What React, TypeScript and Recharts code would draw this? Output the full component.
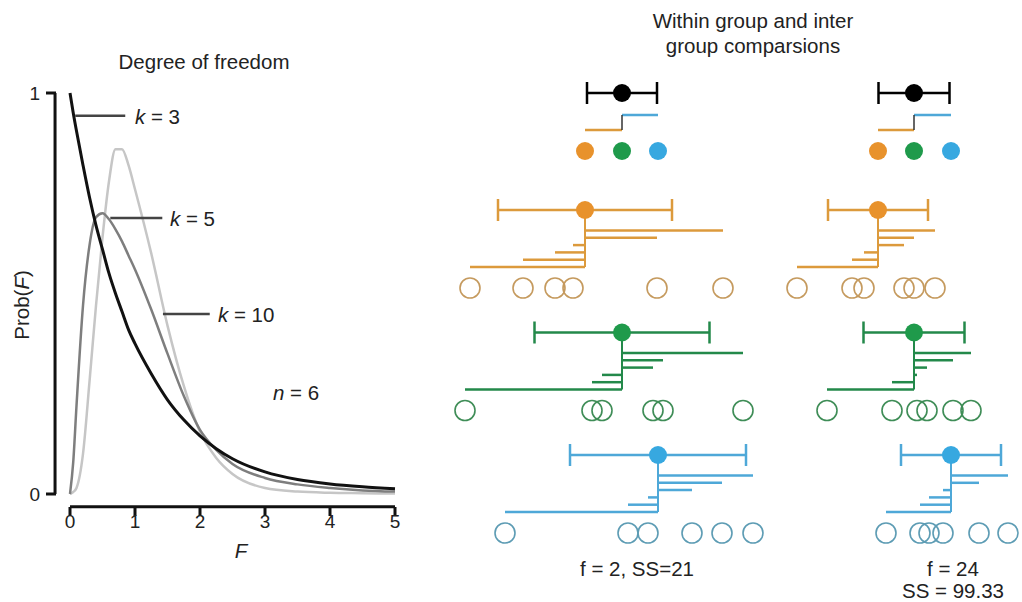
import {
  LineChart, Line, ComposedChart, Scatter, ErrorBar,
  XAxis, YAxis, ReferenceLine,
} from 'recharts'

// F-distribution curves (left panel)
const F_VALUES = [0, 0.05, 0.1, 0.2, 0.3, 0.4, 0.5, 0.6, 0.7, 0.8, 0.9, 1, 1.25, 1.5, 1.75, 2, 2.25, 2.5, 3, 3.5, 4, 4.5, 5]
const PROB_K3 = [1.0, 0.95, 0.905, 0.82, 0.74, 0.67, 0.61, 0.55, 0.5, 0.455, 0.41, 0.375, 0.3, 0.235, 0.185, 0.145, 0.113, 0.088, 0.055, 0.036, 0.025, 0.018, 0.013]
const PROB_K5 = [0, 0.08, 0.22, 0.47, 0.62, 0.69, 0.7, 0.685, 0.66, 0.63, 0.595, 0.56, 0.46, 0.35, 0.245, 0.16, 0.11, 0.075, 0.04, 0.024, 0.015, 0.009, 0.006]
const PROB_K10 = [0, 0.005, 0.015, 0.1, 0.28, 0.47, 0.64, 0.78, 0.86, 0.86, 0.82, 0.76, 0.6, 0.42, 0.27, 0.155, 0.09, 0.05, 0.015, 0.006, 0.003, 0.002, 0.001]
const F_TICKS = [0, 1, 2, 3, 4, 5]
const PROB_TICKS = [0, 1]

// group comparisons, f = 2 panel
const A_GROUPS = [
  [3.0, 8.3, 11.5, 13.3, 21.7, 28.3],
  [2.5, 15.2, 16.2, 21.3, 22.3, 30.3],
  [6.5, 18.8, 20.8, 25.2, 28.2, 31.3],
]
const A_MEANS = [14.5, 18.2, 21.8]
const A_SD = [8.7, 8.75, 8.8]
const A_GRAND = 18.2
const A_GRAND_ERR = 3.5

// group comparisons, f = 24 panel
const B_GROUPS = [
  [2.7, 8.2, 9.4, 13.4, 14.4, 16.5],
  [5.7, 12.2, 14.7, 15.7, 18.3, 20.1],
  [11.6, 15.0, 15.9, 17.3, 20.9, 23.8],
]
const B_MEANS = [10.8, 14.4, 18.1]
const B_SD = [5.0, 5.05, 5.0]
const B_GRAND = 14.4
const B_GRAND_ERR = 3.55

const FONT = '"Liberation Sans", Arial, Helvetica, sans-serif'
const TEXT_SIZE = 20.5
const DOT_COLORS = ['#e8922c', '#1f9a4b', '#37a8e0']
const BAR_COLORS = ['#dc9a3c', '#23894a', '#4ea8d8']
const RING_COLORS = ['#c59a5e', '#3f8d57', '#5d9cb4']

// vertical layout of the comparison panels (px)
const ROW_GRAND = 93
const ROW_STEP = 115
const STEP_GAP = 7.5
const ROW_GROUP_MEANS = 151
const ROW_GROUPS = [210, 332.5, 455]
const BAR_START = 20.5
const BAR_GAP = 7.3
const RING_OFFSET = 78

const AX_Y = 507

const curveData = F_VALUES.map((f, i) => ({
  f, k3: PROB_K3[i], k5: PROB_K5[i], k10: PROB_K10[i],
}))

function XTick(props: any) {
  const { x, payload } = props
  return (
    <g>
      <line x1={x} x2={x} y1={AX_Y} y2={AX_Y + 9} stroke="#111" strokeWidth={3} />
      <text x={x} y={AX_Y + 21} textAnchor="middle" fontSize={19} fontFamily={FONT} fill="#222">{payload.value}</text>
    </g>
  )
}

function YTick(props: any) {
  const { y, payload } = props
  return (
    <g>
      <line x1={46} x2={56} y1={y} y2={y} stroke="#111" strokeWidth={3} />
      <text x={40} y={y + 7} textAnchor="end" fontSize={19} fontFamily={FONT} fill="#222">{payload.value}</text>
    </g>
  )
}

function Label({ x, y, anchor = 'middle', children, rotate = false }: any) {
  const tx = anchor === 'middle' ? '-50%' : anchor === 'end' ? '-100%' : '0'
  return (
    <div style={{
      position: 'absolute', left: x, top: y,
      transform: `translate(${tx}, -50%)${rotate ? ' rotate(-90deg)' : ''}`,
      fontSize: TEXT_SIZE, fontFamily: FONT, color: '#222', whiteSpace: 'nowrap', lineHeight: 1,
    }}>{children}</div>
  )
}

const dot = (color: string, r = 9) => (p: any) => <circle cx={p.cx} cy={p.cy} r={r} fill={color} />
const ring = (color: string) => (p: any) => <circle cx={p.cx} cy={p.cy} r={10} fill="none" stroke={color} strokeWidth={1.6} />

function GroupPanel({ left, width, domain, groups, means, sds, grand, grandErr }: any) {
  const order = means.map((_: number, i: number) => i).sort((a: number, b: number) => means[b] - means[a])
  const items: any[] = []

  // group means relative to the grand mean
  order.forEach((gi: number, j: number) => {
    const y = ROW_STEP + j * STEP_GAP
    items.push(
      <ReferenceLine key={`s${gi}`} segment={[{ x: grand, y }, { x: means[gi], y }]}
        stroke={BAR_COLORS[gi]} strokeWidth={2.5} />,
    )
  })
  items.push(
    <ReferenceLine key="sv" segment={[{ x: grand, y: ROW_STEP }, { x: grand, y: ROW_STEP + 2 * STEP_GAP }]}
      stroke="#333" strokeWidth={1.5} />,
  )

  groups.forEach((vals: number[], gi: number) => {
    const row = ROW_GROUPS[gi]
    const sorted = [...vals].sort((a, b) => b - a)
    sorted.forEach((v, j) => {
      const y = row + BAR_START + j * BAR_GAP
      items.push(
        <ReferenceLine key={`b${gi}-${j}`} segment={[{ x: means[gi], y }, { x: v, y }]}
          stroke={BAR_COLORS[gi]} strokeWidth={2.5} />,
      )
    })
    items.push(
      <ReferenceLine key={`v${gi}`}
        segment={[{ x: means[gi], y: row }, { x: means[gi], y: row + BAR_START + (vals.length - 1) * BAR_GAP }]}
        stroke={BAR_COLORS[gi]} strokeWidth={2} />,
    )
    items.push(
      <Scatter key={`r${gi}`} data={vals.map(v => ({ x: v, y: row + RING_OFFSET }))}
        shape={ring(RING_COLORS[gi])} isAnimationActive={false} />,
    )
    items.push(
      <Scatter key={`m${gi}`} data={[{ x: means[gi], y: row, err: sds[gi] }]}
        shape={dot(DOT_COLORS[gi])} isAnimationActive={false}>
        <ErrorBar dataKey="err" direction="x" width={11} stroke={BAR_COLORS[gi]} strokeWidth={2.5} />
      </Scatter>,
    )
    items.push(
      <Scatter key={`g${gi}`} data={[{ x: means[gi], y: ROW_GROUP_MEANS }]}
        shape={dot(DOT_COLORS[gi])} isAnimationActive={false} />,
    )
  })

  return (
    <div style={{ position: 'absolute', left, top: 0 }}>
      <ComposedChart width={width} height={602} margin={{ top: 0, right: 0, bottom: 0, left: 0 }}>
        <XAxis type="number" dataKey="x" domain={domain} hide allowDataOverflow />
        <YAxis type="number" dataKey="y" domain={[0, 602]} reversed hide allowDataOverflow />
        {items}
        <Scatter data={[{ x: grand, y: ROW_GRAND, err: grandErr }]} shape={dot('#000')} isAnimationActive={false}>
          <ErrorBar dataKey="err" direction="x" width={11} stroke="#000" strokeWidth={2.5} />
        </Scatter>
      </ComposedChart>
    </div>
  )
}

export default function App() {
  return (
    <div style={{ position: 'absolute', left: 0, top: 0, width: 1022, height: 602, background: '#fff', fontFamily: FONT }}>
      <div style={{ position: 'absolute', left: 0, top: 0 }}>
        <LineChart width={420} height={602} data={curveData} margin={{ top: 93, right: 25, bottom: 48, left: 10 }}>
          <XAxis type="number" dataKey="f" domain={[0, 5]} ticks={F_TICKS} interval={0}
            axisLine={false} tickLine={false} tick={XTick} height={60} />
          <YAxis type="number" domain={[0, 1]} ticks={PROB_TICKS} interval={0}
            axisLine={false} tickLine={false} tick={YTick} width={60} />
          <ReferenceLine x={-0.23} stroke="#111" strokeWidth={3} ifOverflow="visible" />
          <ReferenceLine y={-0.032} stroke="#111" strokeWidth={3} ifOverflow="visible" />
          <Line type="monotone" dataKey="k10" stroke="#c6c6c6" strokeWidth={2.5} dot={false} isAnimationActive={false} />
          <Line type="monotone" dataKey="k5" stroke="#7e7e7e" strokeWidth={2.5} dot={false} isAnimationActive={false} />
          <Line type="monotone" dataKey="k3" stroke="#111" strokeWidth={3} dot={false} isAnimationActive={false} />
          <ReferenceLine segment={[{ x: 0.08, y: 0.943 }, { x: 0.85, y: 0.943 }]} stroke="#444" strokeWidth={2.5} />
          <ReferenceLine segment={[{ x: 0.62, y: 0.688 }, { x: 1.42, y: 0.688 }]} stroke="#444" strokeWidth={2.5} />
          <ReferenceLine segment={[{ x: 1.43, y: 0.449 }, { x: 2.15, y: 0.449 }]} stroke="#444" strokeWidth={2.5} />
        </LineChart>
      </div>

      <Label x={204} y={62}>Degree of freedom</Label>
      <Label x={22} y={305} rotate>Prob(<i>F</i>)</Label>
      <Label x={241} y={551}><i>F</i></Label>
      <Label x={135} y={117} anchor="start"><i>k</i> = 3</Label>
      <Label x={170} y={219} anchor="start"><i>k</i> = 5</Label>
      <Label x={218} y={315} anchor="start"><i>k</i> = 10</Label>
      <Label x={273} y={393} anchor="start"><i>n</i> = 6</Label>

      <GroupPanel left={440} width={330} domain={[0, 33]} groups={A_GROUPS}
        means={A_MEANS} sds={A_SD} grand={A_GRAND} grandErr={A_GRAND_ERR} />
      <GroupPanel left={770} width={252} domain={[0, 25.2]} groups={B_GROUPS}
        means={B_MEANS} sds={B_SD} grand={B_GRAND} grandErr={B_GRAND_ERR} />

      <Label x={753} y={21}>Within group and inter</Label>
      <Label x={753} y={46}>group comparsions</Label>
      <Label x={637} y={569}>f = 2, SS=21</Label>
      <Label x={953} y={569}>f = 24</Label>
      <Label x={953} y={591}>SS = 99.33</Label>
    </div>
  )
}
